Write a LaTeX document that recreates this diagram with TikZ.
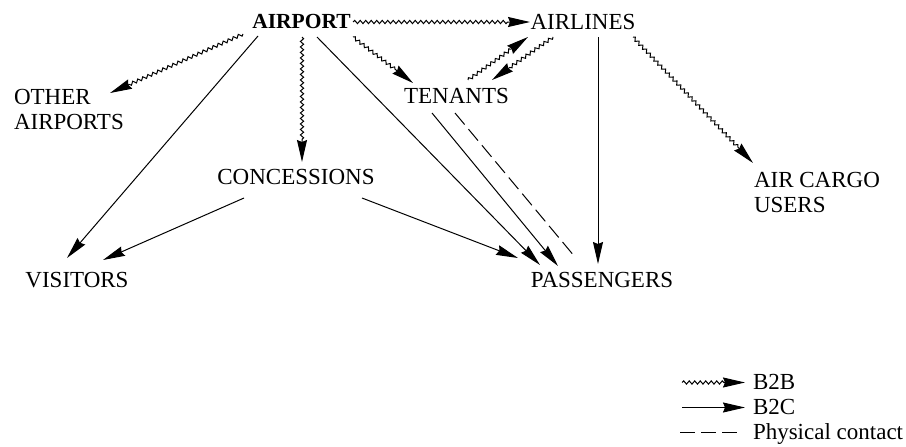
\documentclass[tikz,border=0pt]{standalone}
\usepackage{fontspec}
\setmainfont{Liberation Serif}
\usetikzlibrary{arrows.meta,decorations.pathmorphing}

\tikzset{
  lbl/.style={inner sep=0pt, outer sep=0pt, font=\fontsize{23}{25}\selectfont},
  headarrow/.style={-{Stealth[length=22pt,width=10pt,inset=2pt]}},
  btoc/.style={draw, line width=1pt, headarrow},
  btob/.style={draw, line width=1pt, headarrow,
    decorate, decoration={snake, amplitude=1.6pt, segment length=5.5pt, post length=20pt}},
  contact/.style={draw, line width=1pt, dash pattern=on 15pt off 6pt}
}

\begin{document}
\begin{tikzpicture}[x=1pt, y=-1pt]
\path[use as bounding box] (0,0) rectangle (906,447);

% parties
\node[lbl, font=\fontsize{21.5}{25}\selectfont\bfseries] (airport) at (301.5,21.5) {AIRPORT};
\node[lbl] (airlines) at (583,21.5) {AIRLINES};
\node[lbl, align=left, anchor=north west] (other) at (14,89) {OTHER\\AIRPORTS};
\node[lbl] (tenants) at (456.5,95.5) {TENANTS};
\node[lbl] (conc) at (296,176.5) {CONCESSIONS};
\node[lbl, align=left, anchor=north west] (cargo) at (754,172) {AIR CARGO\\USERS};
\node[lbl] (visitors) at (77,280) {VISITORS};
\node[lbl] (pass) at (602,280) {PASSENGERS};

% business-to-business relations
\path[btob] ([shift={(51.5,0.5)}]airport.center) -- ([shift={(-53,0.5)}]airlines.center);
\path[btob] ([shift={(-58.5,12.5)}]airport.center) -- ([shift={(96,4)}]other.north west);
\path[btob] ([shift={(0.5,15.5)}]airport.center) -- ([shift={(6,-14.5)}]conc.center);
\path[btob] ([shift={(51.5,15.5)}]airport.center) -- ([shift={(-43.5,-12.5)}]tenants.center);
\path[btob] ([shift={(11.5,-15.5)}]tenants.center) -- ([shift={(-55,15.5)}]airlines.center);
\path[btob] ([shift={(-30,15.5)}]airlines.center) -- ([shift={(35.5,-15.5)}]tenants.center);
\path[btob] ([shift={(50,15.5)}]airlines.center) -- ([shift={(-1,-9)}]cargo.north west);

% business-to-consumer relations
\path[btoc] ([shift={(-43.5,14.5)}]airport.center) -- ([shift={(-10,-22)}]visitors.center);
\path[btoc] ([shift={(15.5,15.5)}]airport.center) -- ([shift={(-62,-15)}]pass.center);
\path[btoc] ([shift={(15,15.5)}]airlines.center) -- ([shift={(-4,-16)}]pass.center);
\path[btoc] ([shift={(-52,21.5)}]conc.center) -- ([shift={(26,-20)}]visitors.center);
\path[btoc] ([shift={(66,21.5)}]conc.center) -- ([shift={(-84,-22)}]pass.center);
\path[btoc] ([shift={(-24.5,17.5)}]tenants.center) -- ([shift={(-44,-14)}]pass.center);

% physical contact
\path[contact] ([shift={(-1.5,17.5)}]tenants.center) -- ([shift={(-27,-23)}]pass.center);

% legend
\node[lbl, anchor=base west] (kb2b) at (753,389) {B2B};
\node[lbl, anchor=base west] (kb2c) at (753,414.5) {B2C};
\node[lbl, anchor=base west] (kphys) at (753,439.5) {Physical contact};
\coordinate (kb2bs) at (682,382.5);
\coordinate (kb2cs) at (682,407.5);
\coordinate (kphyss) at (680,432.5);
\path[btob] (kb2bs) -- ([xshift=-8pt]kb2b.west |- kb2bs);
\path[btoc] (kb2cs) -- ([xshift=-8pt]kb2c.west |- kb2cs);
\path[contact] (kphyss) -- ([xshift=-13pt]kphys.west |- kphyss);
\end{tikzpicture}
\end{document}
